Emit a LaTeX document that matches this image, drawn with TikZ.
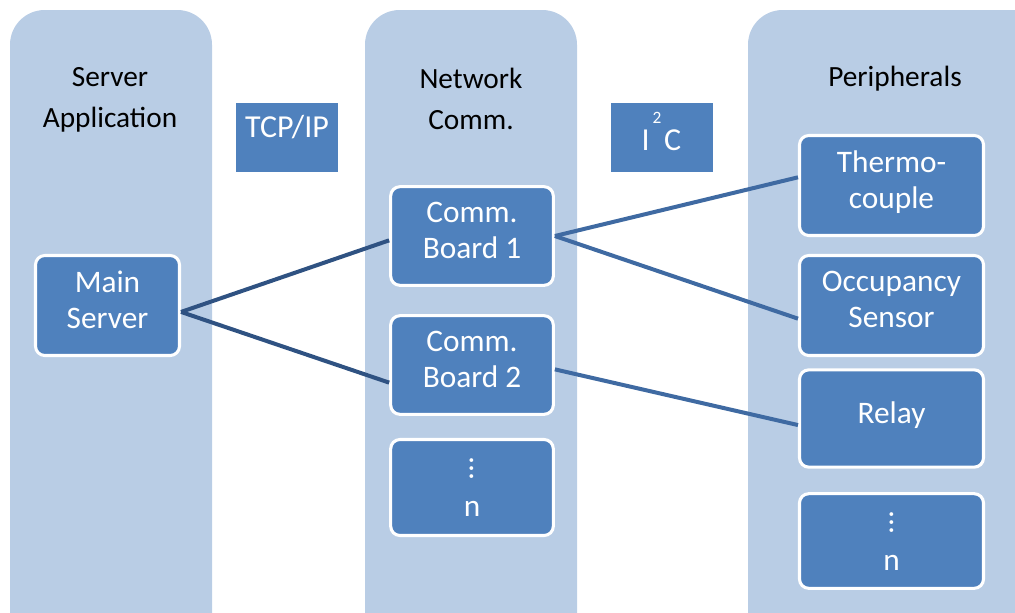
\documentclass[tikz,border=0pt]{standalone}
\usepackage{fontspec}
\setmainfont{Carlito}
\usepackage{amsmath}
\definecolor{panelblue}{HTML}{B9CDE5}
\definecolor{boxblue}{HTML}{4F81BD}
\definecolor{linkdark}{HTML}{2F5282}
\definecolor{linklight}{HTML}{3F6AA2}
\newcommand{\moredots}{\rotatebox{90}{...}}
\tikzset{
  panel/.style={fill=panelblue, rounded corners=26pt},
  heading/.style={align=center, font=\fontsize{22}{30.75}\selectfont},
  unit/.style={fill=boxblue, draw=white, line width=2.3pt, rounded corners=7pt,
    text=white, align=center, font=\fontsize{23.5}{27}\selectfont, inner sep=2pt,
    text depth=9pt},
  proto/.style={fill=boxblue, text=white, font=\fontsize{24}{27}\selectfont,
    minimum width=76.5pt, inner ysep=4pt},
  leftlink/.style={draw=linkdark, line width=3pt},
  rightlink/.style={draw=linklight, line width=3pt}
}
\begin{document}
\begin{tikzpicture}[x=0.75pt, y=-0.75pt]
\useasboundingbox (0,0) rectangle (1015,612);
\clip (0,0) rectangle (1015,612);
% columns
\fill[panel] (10,10) rectangle (212,660);
\fill[panel] (365,10) rectangle (577,660);
\fill[panel] (748,10) rectangle (1060,660);
\node[heading] (hserver) at (110,100) {Server\\Application};
\node[heading] (hnet) at (471,99) {Network\\Comm.};
\node[heading] (hper) at (895,79) {Peripherals};
% protocols
\node[proto, text height=22pt, text depth=22pt] (tcp) at (287,137.5) {TCP/IP};
\node[proto, text height=32pt, text depth=12pt] (iic) at (661.5,137.5)
  {I\makebox[0.45em]{\raisebox{0.85em}{\fontsize{13}{13}\selectfont 2}}C};
% server side
\node[unit, minimum width=108pt, minimum height=75pt] (ms) at (107.5,305.5) {Main\\Server};
% boards
\node[unit, minimum width=122pt, minimum height=74pt] (b1) at (472,236) {Comm.\\Board 1};
\node[unit, minimum width=122pt, minimum height=74pt] (b2) at (472,365) {Comm.\\Board 2};
\node[unit, minimum width=122pt, minimum height=72pt, text depth=1pt] (bn) at (472,487.5) {\moredots\\[0pt]n};
% peripherals
\node[unit, minimum width=138pt, minimum height=75pt] (th) at (891.5,185.5) {Thermo-\\couple};
\node[unit, minimum width=138pt, minimum height=75pt] (oc) at (891.5,305.5) {Occupancy\\Sensor};
\node[unit, minimum width=138pt, minimum height=73pt] (re) at (891.5,418.5) {Relay};
\node[unit, minimum width=138pt, minimum height=71pt, text depth=1pt] (pn) at (891.5,541) {\moredots\\[0pt]n};
% links
\draw[leftlink] (ms.-5) -- (b1.183);
\draw[leftlink] (ms.-5) -- (b2.192);
\draw[rightlink] (b1.east) -- (th.175);
\draw[rightlink] (b1.east) -- (oc.188);
\draw[rightlink] (b2.-3) -- (re.184);
\end{tikzpicture}
\end{document}
